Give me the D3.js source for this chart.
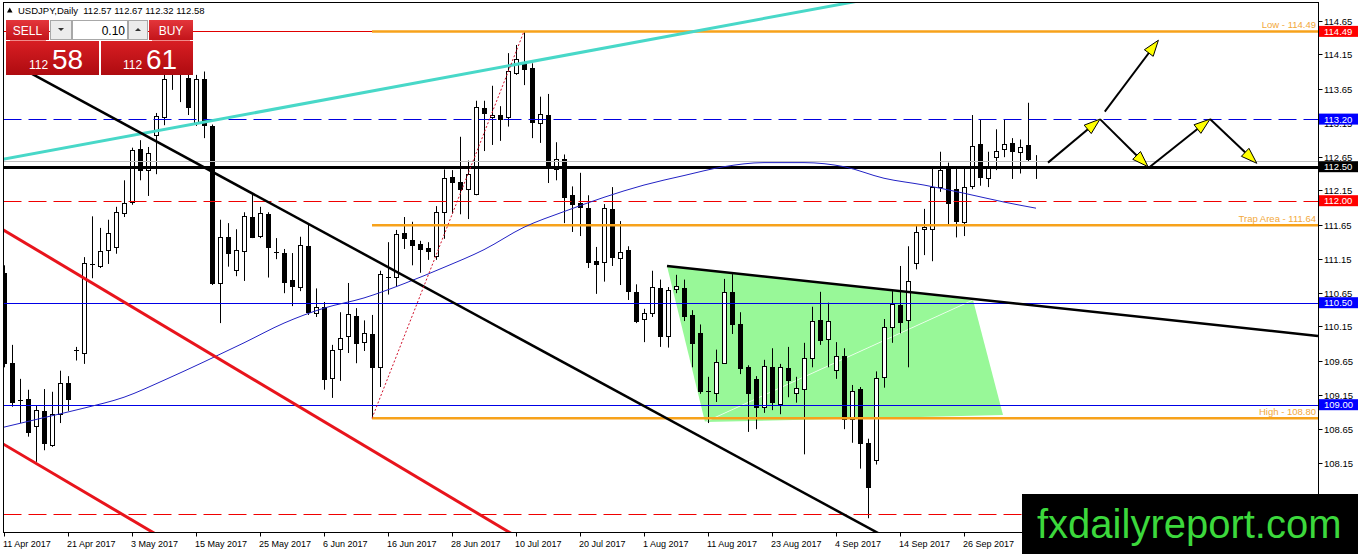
<!DOCTYPE html>
<html>
<head>
<meta charset="utf-8">
<script src="https://cdn.jsdelivr.net/npm/d3@7"></script>
<style>
body { margin: 0; background: #fff; }
svg { display: block; font-family: "Liberation Sans", Arial, sans-serif; }
</style>
</head>
<body>
<svg id="chart" width="1358" height="554"></svg>
<script>
// USDJPY daily bars, 11 Apr 2017 .. 9 Oct 2017
var opens = [110.94,109.61,109.05,109.08,108.69,108.91,108.41,108.86,109.32,109.79,
109.76,111.06,111.04,111.28,111.32,111.83,111.98,112.76,112.45,112.97,
113.23,113.88,114.05,113.80,113.14,113.79,113.10,110.79,111.47,110.99,
111.26,111.76,111.48,111.80,111.24,111.23,110.83,110.73,111.34,110.35,
110.44,109.40,109.82,110.00,110.31,109.92,110.04,109.55,110.90,110.88,
111.52,111.42,111.36,111.30,111.19,111.83,112.35,112.28,112.17,112.10,
113.36,113.23,113.26,113.23,113.88,114.03,113.95,113.14,113.26,112.47,
112.61,112.08,111.96,111.89,111.12,111.10,111.88,111.16,111.28,110.66,
110.26,110.35,110.72,110.01,110.70,110.72,110.32,110.05,109.19,109.17,
109.61,110.66,110.19,109.55,109.38,108.97,109.55,109.01,109.54,109.18,
109.23,109.69,110.25,109.96,109.52,109.72,108.79,109.23,108.44,108.19,
109.40,110.14,110.47,110.25,111.08,111.58,111.58,112.20,112.47,112.17,
111.69,112.22,112.83,112.33,112.64,112.76,112.85,112.72,112.82,112.57];
var highs = [111.05,109.88,109.38,109.22,108.99,109.23,109.19,109.50,109.42,109.85,
111.17,111.77,111.60,111.72,111.91,112.30,112.78,112.89,112.79,113.29,
113.95,114.20,114.37,114.00,113.85,113.90,113.12,111.72,111.67,111.58,
111.83,112.11,111.91,111.83,111.45,111.29,111.23,111.47,111.67,110.71,
110.51,109.88,110.36,110.79,110.42,110.24,110.32,110.97,111.39,111.57,
111.76,111.69,111.41,111.39,111.92,112.46,112.45,112.94,112.59,113.47,
113.47,113.69,113.39,114.17,114.29,114.49,114.02,113.53,113.57,112.86,
112.68,112.21,112.41,112.08,111.32,111.95,112.20,111.70,111.33,110.77,
110.41,110.97,110.84,110.73,110.91,110.84,110.39,110.18,109.41,109.81,
110.85,110.92,110.36,109.58,109.42,109.66,109.83,109.60,109.85,109.41,
109.91,110.44,110.66,110.50,109.92,109.83,109.29,109.26,108.50,109.49,
110.26,110.67,111.04,111.33,111.64,111.88,112.49,112.72,112.56,112.49,
112.47,113.26,113.19,112.72,113.05,113.20,112.92,112.90,113.44,112.67];
var lows = [109.55,108.97,108.73,108.53,108.16,108.33,108.38,108.73,108.91,109.65,
109.60,110.86,111.01,111.07,111.22,111.76,111.94,112.30,112.07,112.39,
113.11,113.63,113.45,113.26,113.10,112.92,110.76,110.20,111.03,110.89,
110.82,111.45,111.45,110.87,111.14,110.64,110.45,110.67,110.32,110.29,
109.22,109.10,109.35,109.76,109.61,109.79,108.80,109.26,110.62,110.73,
111.29,111.05,110.94,111.13,111.13,111.44,111.81,111.80,111.73,112.08,
112.73,112.82,112.88,113.09,113.85,113.70,112.92,112.85,112.26,112.30,
111.67,111.54,111.48,111.01,110.63,110.81,111.04,110.76,110.54,110.20,
109.92,110.29,109.85,109.84,110.64,110.23,109.55,109.16,108.73,109.04,
109.60,110.04,109.45,108.60,108.64,108.88,108.92,108.86,109.11,109.03,
108.27,109.55,109.88,109.55,109.38,108.64,108.44,108.06,107.33,108.12,
109.25,109.91,110.05,109.55,110.99,111.20,111.11,112.13,111.63,111.46,
111.48,112.17,112.22,112.20,112.45,112.64,112.32,112.40,112.57,112.32];
var closes = [109.61,109.03,109.07,108.60,108.92,108.44,108.86,109.32,109.08,109.80,
111.08,111.07,111.26,111.53,111.83,111.97,112.75,112.45,112.70,113.25,
113.79,114.05,113.90,113.38,113.79,113.11,110.79,111.47,111.23,111.28,
111.77,111.46,111.82,111.32,111.25,110.80,110.74,111.35,110.37,110.44,
109.38,109.81,109.98,110.33,109.91,110.05,109.55,110.92,110.88,111.51,
111.44,111.35,111.29,111.26,111.83,112.33,112.28,112.17,112.39,113.38,
113.28,113.26,113.20,113.91,114.08,113.94,113.15,113.27,112.51,112.61,
112.05,111.95,111.90,111.10,111.08,111.89,111.17,111.25,110.67,110.23,
110.35,110.73,110.02,110.69,110.75,110.31,109.91,109.19,109.20,109.63,
110.66,110.19,109.55,109.17,108.97,109.57,109.03,109.55,109.37,109.25,
109.69,110.23,109.96,110.23,109.72,108.80,109.20,108.44,107.80,109.39,
110.14,110.48,110.22,110.82,111.54,111.61,112.20,112.45,111.97,111.70,
112.20,112.81,112.35,112.48,112.73,112.83,112.73,112.79,112.61,112.58];

// moving average, read at every fifth bar
var maBars   = [0,5,10,15,20,25,30,35,40,45,50,55,60,65,70,75,80,85,90,95,100,105,110,115,120,125,129];
var maValues = [108.67,108.81,108.95,109.11,109.36,109.63,109.91,110.20,110.42,110.57,110.78,111.02,111.28,111.61,111.84,112.05,112.23,112.37,112.50,112.56,112.56,112.50,112.33,112.23,112.11,111.98,111.89];

// time axis
var tickBars   = [0,8,16,24,32,40,48,56,64,72,80,88,96,104,112,120];
var tickLabels = ["11 Apr 2017","21 Apr 2017","3 May 2017","15 May 2017","25 May 2017","6 Jun 2017",
                  "16 Jun 2017","28 Jun 2017","10 Jul 2017","20 Jul 2017","1 Aug 2017","11 Aug 2017",
                  "23 Aug 2017","4 Sep 2017","14 Sep 2017","26 Sep 2017"];
// price axis
var priceTicks = [114.65,114.15,113.65,113.15,112.65,112.15,111.65,111.15,110.65,110.15,109.65,109.15,108.65,108.15,107.65];

// horizontal levels
var redSolidLevels = [114.49];
var blueDashLevels = [113.20];
var blackLevels    = [112.50];
var redDashLevels  = [112.00, 107.40];
var blueLevels     = [110.50, 109.00];
var orangeLevels   = [114.49, 111.64, 108.80];
var orangeNames    = ["Low", "Trap Area", "High"];
var orangeFromBar  = 46;

// trend lines as [bar, price] pairs
var cyanLine     = [[-0.5, 112.60], [22, 113.09]];
var blackDown    = [[4.5, 113.80], [65.75, 109.89]];
var redUpper     = [[-0.5, 111.60], [43.875, 108.48]];
var redLower     = [[-0.5, 108.45], [18.5, 107.13]];
var triangleTop  = [[82.875, 111.04], [164.25, 110.01]];
var dottedSwing  = [[46, 108.80], [65, 114.49]];
var triangleA    = [[82.875, 111.04], [87.625, 108.745], [121.125, 110.54]];
var triangleB    = [[87.625, 108.745], [121.125, 110.54], [124.875, 108.85]];

// projection arrows
var arrowFrom = [[130.5, 112.56], [137.6, 113.31], [137.0, 113.20], [143.25, 112.50], [150.75, 113.20]];
var arrowTo   = [[137.0, 113.20], [144.3, 114.36], [143.0, 112.50], [150.75, 113.20], [156.6, 112.55]];

var header = "USDJPY,Daily  112.57 112.67 112.32 112.58";

// ---------------------------------------------------------------
var svg = d3.select("#chart");
var plot = {left: 3.5, top: 2.5, right: 1318.5, bottom: 532.5};

var x = d3.scaleLinear().domain([0, 164]).range([4, 1316]);
var y = d3.scaleLinear().domain([107.65, 114.65]).range([496.5, 20.5]);

var defs = svg.append("defs");
defs.append("clipPath").attr("id", "plotClip")
    .append("rect")
    .attr("x", plot.left).attr("y", plot.top)
    .attr("width", plot.right - plot.left).attr("height", plot.bottom - plot.top);

function gradient(id, c1, c2){
    var g = defs.append("linearGradient").attr("id", id)
        .attr("x1", 0).attr("y1", 0).attr("x2", 0).attr("y2", 1);
    g.append("stop").attr("offset", "0%").attr("stop-color", c1);
    g.append("stop").attr("offset", "100%").attr("stop-color", c2);
}
gradient("btnRed", "#e4363b", "#c3141a");
gradient("bigRed", "#d81e23", "#ae0b10");

// extend a two point line between two bars
function fromBar(pts, startBar, toBar){
    var a = pts[0], b = pts[1];
    var slope = (b[1] - a[1]) / (b[0] - a[0]);
    return [[startBar, a[1] + slope * (startBar - a[0])], [toBar, a[1] + slope * (toBar - a[0])]];
}

var line = d3.line().x(function(d){ return x(d[0]); }).y(function(d){ return y(d[1]); });

var g = svg.append("g").attr("clip-path", "url(#plotClip)");

// green triangles (background)
[triangleA, triangleB].forEach(function(t){
    g.append("path").attr("d", line(t) + "Z").attr("fill", "#98f898").attr("stroke", "none");
});
g.append("path").attr("d", line([triangleA[1], triangleA[2]]))
    .attr("stroke", "#ffffff").attr("stroke-width", 1).attr("opacity", 0.7).attr("fill", "none");

// candles
var bars = d3.range(opens.length);
var candle = g.append("g").selectAll("g").data(bars).enter().append("g");
candle.append("line")
    .attr("x1", function(i){ return x(i) + 0.5; })
    .attr("x2", function(i){ return x(i) + 0.5; })
    .attr("y1", function(i){ return y(highs[i]); })
    .attr("y2", function(i){ return y(lows[i]); })
    .attr("stroke", "#000").attr("stroke-width", 1);
candle.each(function(i){
    var sel = d3.select(this);
    var o = opens[i], c = closes[i];
    if (Math.abs(o - c) < 0.025){
        sel.append("line")
            .attr("x1", x(i) - 2).attr("x2", x(i) + 3)
            .attr("y1", Math.round(y(c)) + 0.5).attr("y2", Math.round(y(c)) + 0.5)
            .attr("stroke", "#000").attr("stroke-width", 1);
    } else {
        var top = Math.min(y(o), y(c)), h = Math.abs(y(o) - y(c));
        sel.append("rect")
            .attr("x", x(i) - 1.5).attr("width", 4)
            .attr("y", Math.round(top) + 0.5).attr("height", Math.max(1, Math.round(h)))
            .attr("fill", c > o ? "#ffffff" : "#000000")
            .attr("stroke", "#000").attr("stroke-width", 1);
    }
});

// horizontal levels
function hline(p, color, width, dash){
    var yy = Math.round(y(p)) + (width % 2 ? 0.5 : 0);
    g.append("line").attr("x1", plot.left).attr("x2", plot.right)
        .attr("y1", yy).attr("y2", yy)
        .attr("stroke", color).attr("stroke-width", width)
        .attr("stroke-dasharray", dash || null);
}
redSolidLevels.forEach(function(p){ hline(p, "#e00000", 1); });
blueDashLevels.forEach(function(p){ hline(p, "#0000e0", 1.2, "18,7"); });
redDashLevels.forEach(function(p){ hline(p, "#f00000", 1.2, "18,7"); });
blueLevels.forEach(function(p){ hline(p, "#0000e6", 1.2); });
hline(closes[closes.length - 1], "#c0c0c0", 1);
blackLevels.forEach(function(p){ hline(p, "#000000", 3); });

// orange levels with names
orangeLevels.forEach(function(p, k){
    g.append("line").attr("x1", x(orangeFromBar)).attr("x2", plot.right)
        .attr("y1", y(p)).attr("y2", y(p))
        .attr("stroke", "#f7a21b").attr("stroke-width", 2.5);
    g.append("text").attr("x", plot.right - 2.5).attr("y", y(p) - 3)
        .attr("text-anchor", "end").attr("font-size", 9.5).attr("fill", "#f2a83a")
        .text(orangeNames[k] + " - " + p.toFixed(2));
});

// moving average
g.append("path")
    .attr("d", d3.line().curve(d3.curveMonotoneX)
        .x(function(d, k){ return x(maBars[k]); })
        .y(function(d){ return y(d); })(maValues))
    .attr("fill", "none").attr("stroke", "#2222c4").attr("stroke-width", 1);

// trend lines
function trend(pts, color, width, dash){
    g.append("path").attr("d", line(pts)).attr("fill", "none")
        .attr("stroke", color).attr("stroke-width", width)
        .attr("stroke-dasharray", dash || null);
}
trend(fromBar(cyanLine, -0.5, 164), "#48d8c8", 3);
trend(fromBar(redUpper, -0.5, 90), "#e8141c", 3);
trend(fromBar(redLower, -0.5, 40), "#e8141c", 3);
trend(fromBar(blackDown, 2, 120), "#000000", 2.5);
trend(triangleTop, "#000000", 2.5);
trend(dottedSwing, "#d0102a", 1, "2,2");

// arrows
arrowFrom.forEach(function(a, k){
    var b = arrowTo[k];
    var x1 = x(a[0]), y1 = y(a[1]), x2 = x(b[0]), y2 = y(b[1]);
    var len = Math.sqrt((x2 - x1) * (x2 - x1) + (y2 - y1) * (y2 - y1));
    var ux = (x2 - x1) / len, uy = (y2 - y1) / len;
    g.append("line").attr("x1", x1).attr("y1", y1).attr("x2", x2 - ux * 6).attr("y2", y2 - uy * 6)
        .attr("stroke", "#000").attr("stroke-width", 2);
    var L = 16, W = 5.5;
    var bx = x2 - ux * L, by = y2 - uy * L;
    var pts = [[x2, y2], [bx - uy * W, by + ux * W], [bx + uy * W, by - ux * W]];
    g.append("path").attr("d", "M" + pts.join("L") + "Z")
        .attr("fill", "#ffff00").attr("stroke", "#000").attr("stroke-width", 1);
});

// frame
svg.append("rect").attr("x", plot.left).attr("y", plot.top)
    .attr("width", plot.right - plot.left).attr("height", plot.bottom - plot.top)
    .attr("fill", "none").attr("stroke", "#000").attr("stroke-width", 1);

// price axis
var yAxis = svg.append("g");
priceTicks.forEach(function(p){
    var yy = Math.round(y(p)) + 0.5;
    yAxis.append("line").attr("x1", plot.right).attr("x2", plot.right + 4)
        .attr("y1", yy).attr("y2", yy).attr("stroke", "#000");
    yAxis.append("text").attr("x", 1324).attr("y", yy).attr("dy", "0.35em")
        .attr("font-size", 9.5).attr("fill", "#000").text(p.toFixed(2));
});
function tag(p, bg){
    var yy = y(p);
    yAxis.append("rect").attr("x", plot.right + 0.5).attr("y", yy - 5.5)
        .attr("width", 1358 - plot.right).attr("height", 11).attr("fill", bg);
    yAxis.append("text").attr("x", 1324).attr("y", yy).attr("dy", "0.36em")
        .attr("font-size", 9.5).attr("fill", "#fff").text(p.toFixed(2));
}
redSolidLevels.forEach(function(p){ tag(p, "#ff0000"); });
blueDashLevels.forEach(function(p){ tag(p, "#0000ff"); });
blackLevels.forEach(function(p){ tag(p, "#000000"); });
tag(redDashLevels[0], "#ff0000");
blueLevels.forEach(function(p){ tag(p, "#0000ff"); });

// time axis
var xAxis = svg.append("g");
tickBars.forEach(function(b, k){
    var xx = Math.round(x(b)) + 0.5;
    xAxis.append("line").attr("x1", xx).attr("x2", xx)
        .attr("y1", plot.bottom).attr("y2", plot.bottom + 4).attr("stroke", "#000");
    xAxis.append("text").attr("x", x(b) - 1).attr("y", 547)
        .attr("font-size", 9).attr("fill", "#000").text(tickLabels[k]);
});

// header
svg.append("path").attr("d", "M7,12.5L12.5,12.5L9.75,7.5Z").attr("fill", "#000");
svg.append("text").attr("x", 18).attr("y", 14).attr("font-size", 9.5).attr("fill", "#000")
    .attr("xml:space", "preserve").text(header);

// one click trading panel
var panel = svg.append("g");
panel.append("rect").attr("x", 6).attr("y", 20).attr("width", 43).attr("height", 20).attr("fill", "url(#btnRed)");
panel.append("rect").attr("x", 149).attr("y", 20).attr("width", 44).attr("height", 20).attr("fill", "url(#btnRed)");
panel.append("line").attr("x1", 10).attr("x2", 46).attr("y1", 40.5).attr("y2", 40.5).attr("stroke", "#f08a8a");
panel.append("line").attr("x1", 152).attr("x2", 190).attr("y1", 40.5).attr("y2", 40.5).attr("stroke", "#f08a8a");
panel.append("text").attr("x", 27.5).attr("y", 35).attr("text-anchor", "middle")
    .attr("font-size", 12).attr("fill", "#fff").text("SELL");
panel.append("text").attr("x", 171).attr("y", 35).attr("text-anchor", "middle")
    .attr("font-size", 12).attr("fill", "#fff").text("BUY");
panel.append("rect").attr("x", 50.5).attr("y", 20.5).attr("width", 21).attr("height", 19)
    .attr("fill", "#ececec").attr("stroke", "#a8a8a8");
panel.append("path").attr("d", "M58,28L64,28L61,31Z").attr("fill", "#333");
panel.append("rect").attr("x", 72.5).attr("y", 20.5).attr("width", 55).attr("height", 19)
    .attr("fill", "#fff").attr("stroke", "#a8a8a8");
panel.append("text").attr("x", 125).attr("y", 35).attr("text-anchor", "end")
    .attr("font-size", 12).attr("fill", "#000").text("0.10");
panel.append("rect").attr("x", 128.5).attr("y", 20.5).attr("width", 19).attr("height", 19)
    .attr("fill", "#ececec").attr("stroke", "#a8a8a8");
panel.append("path").attr("d", "M135,31L141,31L138,28Z").attr("fill", "#333");
panel.append("rect").attr("x", 6).attr("y", 41).attr("width", 93).attr("height", 34).attr("fill", "url(#bigRed)");
panel.append("rect").attr("x", 101).attr("y", 41).attr("width", 92).attr("height", 34).attr("fill", "url(#bigRed)");
panel.append("text").attr("x", 29).attr("y", 69).attr("font-size", 12).attr("fill", "#fff").text("112");
panel.append("text").attr("x", 52).attr("y", 69).attr("font-size", 28).attr("fill", "#fff").text("58");
panel.append("text").attr("x", 123).attr("y", 69).attr("font-size", 12).attr("fill", "#fff").text("112");
panel.append("text").attr("x", 146).attr("y", 69).attr("font-size", 28).attr("fill", "#fff").text("61");

// watermark
svg.append("rect").attr("x", 1022).attr("y", 494).attr("width", 336).attr("height", 60).attr("fill", "#000");
svg.append("text").attr("x", 1037).attr("y", 538).attr("font-size", 40)
    .attr("fill", "#3cd83c").text("fxdailyreport.com");
</script>
</body>
</html>
